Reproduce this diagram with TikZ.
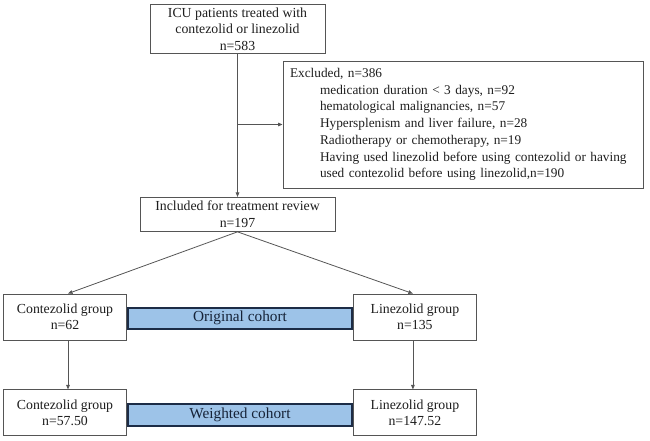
\documentclass[tikz,border=0pt]{standalone}
\usepackage{fontspec}
\setmainfont{Liberation Serif}
\usetikzlibrary{arrows.meta,positioning,calc}
\definecolor{boxline}{RGB}{85,85,85}
\definecolor{bandfill}{RGB}{157,195,232}
\definecolor{bandline}{RGB}{28,44,70}
\definecolor{txt}{RGB}{30,30,30}

\begin{document}
\begin{tikzpicture}[
    x=1pt, y=-1pt,
    every node/.style={font=\fontsize{13.8}{16.4}\selectfont, text=txt},
    box/.style={rectangle, draw=boxline, line width=0.9pt, align=center,
                inner sep=2pt, fill=white},
    grp/.style={box, minimum width=123pt, minimum height=46pt},
    exbox/.style={rectangle, draw=boxline, line width=0.9pt, align=left,
                  text width=346pt, inner sep=7pt, minimum height=127pt,
                  font=\fontsize{13.3}{16.7}\selectfont},
    cohort/.style={rectangle, draw=bandline, line width=2pt, fill=bandfill,
                   minimum width=224pt, minimum height=21pt, inner sep=0pt,
                   font=\fontsize{15.3}{18}\selectfont, text=bandline!80!black},
    arr/.style={-{Triangle[length=4.5pt,width=3.6pt]}, line width=0.8pt, draw=boxline},
]
\useasboundingbox (0,0) rectangle (650,441);

% Screening
\node[box, minimum width=175pt, minimum height=49pt] (icu) at (237.5,29)
  {ICU patients treated with\\contezolid or linezolid\\n=583};
\node[box, minimum width=195pt, minimum height=34pt, below=143pt of icu] (incl)
  {Included for treatment review\\n=197};
\node[exbox] (excl) at (463,124.5)
  {Excluded, n=386\\
   \hspace*{30pt}medication duration < 3 days, n=92\\
   \hspace*{30pt}hematological malignancies, n=57\\
   \hspace*{30pt}Hypersplenism and liver failure, n=28\\
   \hspace*{30pt}Radiotherapy or chemotherapy, n=19\\
   \hspace*{30pt}\mbox{Having used linezolid before using contezolid or having}\\
   \hspace*{30pt}\mbox{used contezolid before using linezolid,n=190}};

% Groups
\node[grp] (conA) at (65,317) {Contezolid group\\n=62};
\node[grp, right=226pt of conA] (linA) {Linezolid group\\n=135};
\node[grp, below=49pt of conA] (conB) {Contezolid group\\n=57.50};
\node[grp, below=49pt of linA] (linB) {Linezolid group\\n=147.52};

% Cohort bands
\node[cohort] (orig) at ($(conA.east)!0.5!(linA.west)+(0,1)$) {Original cohort};
\node[cohort, minimum height=22pt] (wght) at ($(conB.east)!0.5!(linB.west)+(0,2)$) {Weighted cohort};

% Arrows
\draw[arr] (icu) -- (incl);
\draw[arr] (icu.south |- excl.west) -- (excl.west);
\draw[arr] (incl.south) -- ([xshift=3pt]conA.north);
\draw[arr] (incl.south) -- ([xshift=-2pt]linA.north);
\draw[arr] ([xshift=3pt]conA.south) -- ([xshift=3pt]conB.north);
\draw[arr] ([xshift=-2pt]linA.south) -- ([xshift=-2pt]linB.north);

\end{tikzpicture}
\end{document}
